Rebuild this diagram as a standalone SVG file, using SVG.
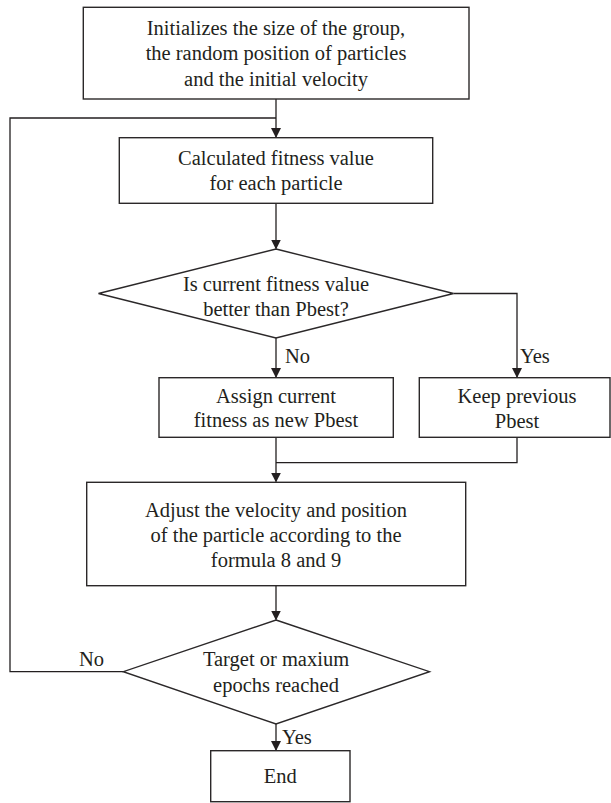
<svg xmlns="http://www.w3.org/2000/svg" width="611" height="803" viewBox="0 0 611 803">
<style>
.box{fill:#fff;stroke:#2b2829;stroke-width:1.4}
.ln{fill:none;stroke:#231f20;stroke-width:1.3}
text{font-family:"Liberation Serif","Times New Roman",serif;font-size:20.5px;fill:#231f20}
.c{text-anchor:middle}
</style>
<defs>
<marker id="ah" markerUnits="userSpaceOnUse" markerWidth="10" markerHeight="12" refX="9" refY="5" orient="auto">
<path d="M0,0 L10,5 L0,10 Z" fill="#231f20"/>
</marker>
</defs>
<rect width="611" height="803" fill="#fff"/>
<g id="connectors">
<path class="ln" d="M276,99 V137" marker-end="url(#ah)"/>
<path class="ln" d="M123.3,671.7 H10 V118 H276"/>
<path class="ln" d="M276,203.3 V248.5" marker-end="url(#ah)"/>
<path class="ln" d="M276,338 V377" marker-end="url(#ah)"/>
<path class="ln" d="M453.5,293.5 H517 V377" marker-end="url(#ah)"/>
<path class="ln" d="M276,437.3 V481.6" marker-end="url(#ah)"/>
<path class="ln" d="M517,437.3 V462.7 H276"/>
<path class="ln" d="M276,585.7 V619.5" marker-end="url(#ah)"/>
<path class="ln" d="M276,724 V750" marker-end="url(#ah)"/>
<text x="285" y="363">No</text>
<text x="520" y="363">Yes</text>
<text x="79" y="666">No</text>
<text x="282" y="744">Yes</text>
</g>
<g id="init">
<rect class="box" x="83.3" y="7.3" width="385.7" height="91.7"/>
<text class="c" x="276" y="34.5">Initializes the size of the group,</text>
<text class="c" x="276" y="60">the random position of particles</text>
<text class="c" x="276" y="85.5">and the initial velocity</text>
</g>
<g id="fitness">
<rect class="box" x="119.3" y="137.7" width="313.4" height="65.6"/>
<text class="c" x="276" y="164.5">Calculated fitness value</text>
<text class="c" x="276" y="190">for each particle</text>
</g>
<g id="decision1">
<polygon class="box" points="276,249 453.5,293.5 276,338 98.5,293.5"/>
<text class="c" x="276" y="290.7">Is current fitness value</text>
<text class="c" x="276" y="315.7">better than Pbest?</text>
</g>
<g id="assign">
<rect class="box" x="159" y="377.7" width="234.3" height="59.6"/>
<text class="c" x="276" y="402.7">Assign current</text>
<text class="c" x="276" y="427.3">fitness as new Pbest</text>
</g>
<g id="keep">
<rect class="box" x="419.3" y="377.7" width="190.7" height="59.6"/>
<text class="c" x="517" y="403">Keep previous</text>
<text class="c" x="517" y="428">Pbest</text>
</g>
<g id="adjust">
<rect class="box" x="86.7" y="482.3" width="379" height="103.4"/>
<text class="c" x="276" y="516.5">Adjust the velocity and position</text>
<text class="c" x="276" y="541.5">of the particle according to the</text>
<text class="c" x="276" y="566.5">formula 8 and 9</text>
</g>
<g id="decision2">
<polygon class="box" points="276,620 429.5,671.7 276,724 123.3,671.7"/>
<text class="c" x="276" y="666.2">Target or maxium</text>
<text class="c" x="276" y="691.5">epochs reached</text>
</g>
<g id="end">
<rect class="box" x="210.7" y="750.7" width="139.3" height="51"/>
<text class="c" x="280.3" y="783">End</text>
</g>
</svg>
